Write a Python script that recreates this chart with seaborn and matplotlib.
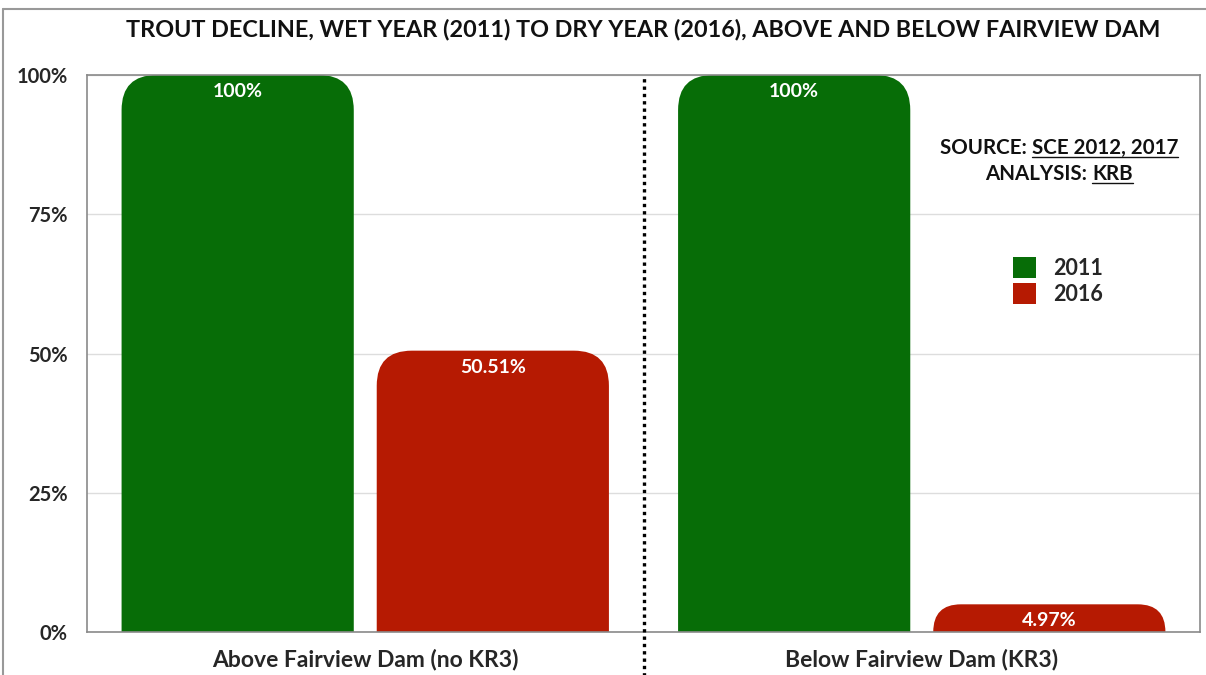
import numpy as np
import pandas as pd
import matplotlib
matplotlib.use("Agg")
import matplotlib.pyplot as plt
import seaborn as sns
from matplotlib.patches import FancyBboxPatch, Patch
from matplotlib.lines import Line2D

# --- data ---
sites = ["Above Fairview Dam (no KR3)", "Below Fairview Dam (KR3)"]
years = ["2011", "2016"]
pct_2011 = [100, 100]
pct_2016 = [50.51, 4.97]
bar_labels_2011 = ["100%", "100%"]
bar_labels_2016 = ["50.51%", "4.97%"]

colors = {"2011": "#076d07", "2016": "#b61a02"}

df = pd.DataFrame({
    "site": sites * 2,
    "year": [years[0]] * 2 + [years[1]] * 2,
    "pct": pct_2011 + pct_2016,
})

sns.set_theme(style="white")
plt.rcParams["font.family"] = ["Lato", "DejaVu Sans"]
plt.rcParams["font.weight"] = "bold"

W, H = 1206, 675
fig = plt.figure(figsize=(W / 100, H / 100), dpi=100)
ax = fig.add_axes([87 / W, 1 - 632 / H, (1200 - 87) / W, (632 - 75) / H])

sns.barplot(data=df, x="site", y="pct", hue="year", palette=colors,
            width=0.917, gap=0.09, ax=ax, legend=False, saturation=1)

ax.set_xlim(-0.5, 1.5)
ax.set_ylim(0, 100)
ax.set_yticks([0, 25, 50, 75, 100])
ax.set_yticklabels(["0%", "25%", "50%", "75%", "100%"], fontsize=14.5, fontweight="bold")
ax.set_xticks([0, 1])
ax.set_xticklabels(sites, fontsize=16.5, fontweight="bold")
ax.tick_params(axis="y", length=0, pad=14)
ax.tick_params(axis="x", length=0, pad=12)
ax.set_xlabel("")
ax.set_ylabel("")
ax.yaxis.grid(True, color="#dddddd", linewidth=1)
ax.set_axisbelow(True)
for s in ax.spines.values():
    s.set_color("#8a8a8a")
    s.set_linewidth(1.2)

# rounded top corners: replace the rectangles
aspect = (100 / 557) / (2 / 1113)
r_x = 0.063
all_labels = [bar_labels_2011, bar_labels_2016]
for cont, labs in zip(ax.containers, all_labels):
    for bar, lab in zip(cont, labs):
        x, w, h = bar.get_x(), bar.get_width(), bar.get_height()
        fc = bar.get_facecolor()
        bar.set_visible(False)
        rr = min(r_x, h / aspect)
        ry = rr * aspect
        p = FancyBboxPatch((x, -ry), w, h + ry,
                           boxstyle=f"round,pad=0,rounding_size={rr}",
                           mutation_aspect=aspect, facecolor=fc,
                           edgecolor="none", zorder=2)
        ax.add_patch(p)
        ax.annotate(lab, (x + w / 2, h), xytext=(0, -12),
                    textcoords="offset points", ha="center", va="center",
                    color="white", fontsize=14, fontweight="bold", zorder=3)

# dotted divider
ax.plot([0.5, 0.5], [-0.08, 1.0], transform=ax.get_xaxis_transform(),
        color="black", linestyle=(0, (1, 1.2)), linewidth=2.4,
        clip_on=False, zorder=4)

fig.text(643.5 / W, 1 - 29 / H,
         "TROUT DECLINE, WET YEAR (2011) TO DRY YEAR (2016), ABOVE AND BELOW FAIRVIEW DAM",
         ha="center", va="center", fontsize=16.8, fontweight="bold", color="#111111")

# legend
handles = [Patch(facecolor=colors[y], edgecolor="none") for y in years]
ax.legend(handles, years, loc="center", bbox_to_anchor=(1058 / W, 1 - 281 / H),
          bbox_transform=fig.transFigure, frameon=False,
          handlelength=1.1, handleheight=1.1, handletextpad=0.8, labelspacing=0.2,
          prop={"weight": "bold", "size": 15.5})

# source text with underlines
fig.canvas.draw()
renderer = fig.canvas.get_renderer()


def width_px(s, size):
    t = fig.text(0, 0, s, fontsize=size, fontweight="bold")
    wpx = t.get_window_extent(renderer).width
    t.remove()
    return wpx


def underlined_line(prefix, under, cx, y_base, size=14.8):
    w1 = width_px(prefix + " ", size)
    w2 = width_px(under, size)
    x0 = cx - (w1 + w2) / 2
    fig.text(x0 / W, 1 - y_base / H, prefix + " ", ha="left", va="baseline",
             fontsize=size, fontweight="bold", color="#111111")
    fig.text((x0 + w1) / W, 1 - y_base / H, under, ha="left", va="baseline",
             fontsize=size, fontweight="bold", color="#111111")
    fig.add_artist(Line2D([(x0 + w1) / W, (x0 + w1 + w2) / W],
                          [1 - (y_base + 3) / H] * 2, transform=fig.transFigure,
                          color="#111111", linewidth=1))


underlined_line("SOURCE:", "SCE 2012, 2017", 1059, 154)
underlined_line("ANALYSIS:", "KRB", 1059, 180)

# outer frame
fig.add_artist(Line2D([3 / W, 3 / W], [0, 1 - 9 / H], transform=fig.transFigure,
                      color="#999999", linewidth=1.5))
fig.add_artist(Line2D([3 / W, 1], [1 - 9 / H, 1 - 9 / H], transform=fig.transFigure,
                      color="#999999", linewidth=1.5))

fig.savefig("out.png", dpi=100, facecolor="white")
